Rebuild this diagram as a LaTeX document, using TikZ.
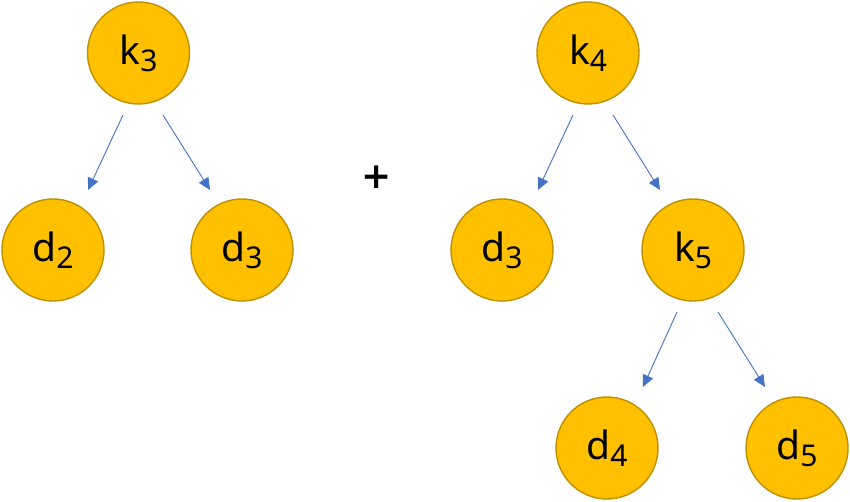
\documentclass[tikz,border=0pt]{standalone}
\usepackage{fontspec}
\setmainfont{Noto Sans}
\newfontfamily\plusfont{DejaVu Sans Bold}
\usetikzlibrary{arrows.meta}
\definecolor{nodefill}{HTML}{FFC000}
\definecolor{nodeedge}{HTML}{BF9000}
\definecolor{edgeblue}{HTML}{4472C4}
\newcommand{\lbl}[2]{\fontsize{39}{40}\selectfont #1\raisebox{-7pt}{\fontsize{30}{30}\selectfont #2}}
\begin{document}
\begin{tikzpicture}[x=1pt,y=-1pt,
  keynode/.style={circle, draw=nodeedge, fill=nodefill, line width=1.4pt,
    minimum size=102pt, inner sep=0pt},
  link/.style={draw=edgeblue, line width=0.9pt,
    -{Triangle[length=12pt,width=11pt]}}]
\useasboundingbox (0,0) rectangle (850,502);

% left tree
\node[keynode] (k3) at (138.5,53) {\lbl{k}{3}};
\node[keynode] (d2) at (53,250) {\lbl{d}{2}};
\node[keynode] (d3a) at (242,250) {\lbl{d}{3}};
\coordinate (k3l) at (123,115); \coordinate (k3lt) at (88,190);
\coordinate (k3r) at (163,115); \coordinate (k3rt) at (210,190);
\draw[link] (k3l) -- (k3lt);
\draw[link] (k3r) -- (k3rt);

% plus sign
\node[font=\plusfont\fontsize{36}{40}\selectfont] (plus) at (377,177) {+};

% right tree
\node[keynode] (k4) at (588,53) {\lbl{k}{4}};
\node[keynode] (d3b) at (502,250) {\lbl{d}{3}};
\node[keynode] (k5) at (693,250) {\lbl{k}{5}};
\node[keynode] (d4) at (607,448) {\lbl{d}{4}};
\node[keynode] (d5) at (797,448) {\lbl{d}{5}};
\coordinate (k4l) at (573,115); \coordinate (k4lt) at (538,190);
\coordinate (k4r) at (613,115); \coordinate (k4rt) at (660,190);
\coordinate (k5l) at (677,312); \coordinate (k5lt) at (643,387);
\coordinate (k5r) at (718,312); \coordinate (k5rt) at (765,387);
\draw[link] (k4l) -- (k4lt);
\draw[link] (k4r) -- (k4rt);
\draw[link] (k5l) -- (k5lt);
\draw[link] (k5r) -- (k5rt);
\end{tikzpicture}
\end{document}
